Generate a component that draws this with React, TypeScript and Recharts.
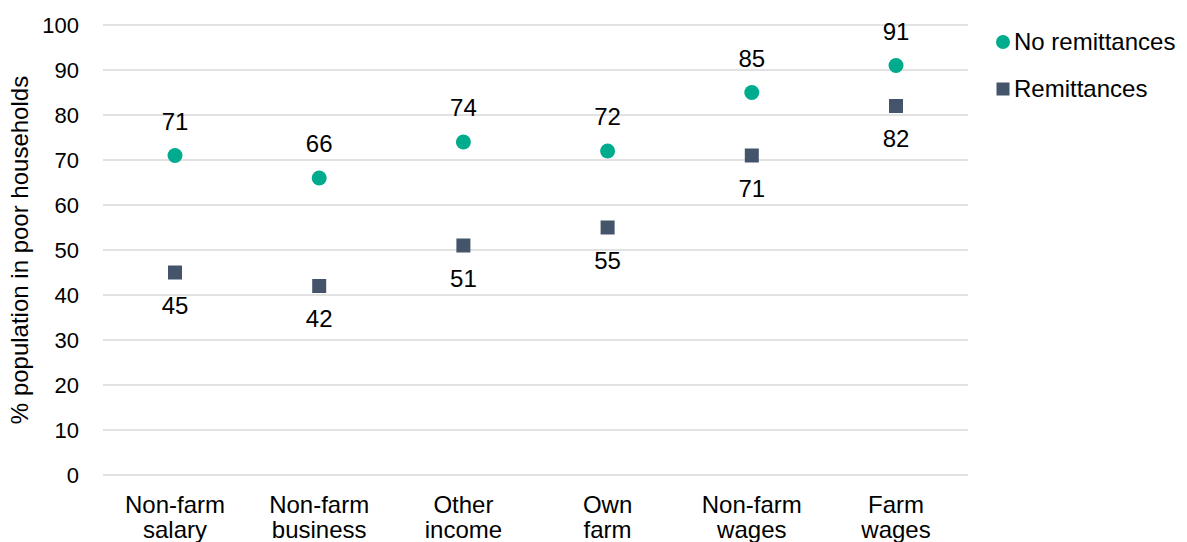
import { CartesianGrid, ComposedChart, LabelList, Line, XAxis, YAxis } from "recharts";

const CATEGORIES = [
  "Non-farm salary",
  "Non-farm business",
  "Other income",
  "Own farm",
  "Non-farm wages",
  "Farm wages",
];
const NO_REMITTANCES = [71, 66, 74, 72, 85, 91];
const REMITTANCES = [45, 42, 51, 55, 71, 82];
const Y_TICKS = [0, 10, 20, 30, 40, 50, 60, 70, 80, 90, 100];

const TEAL = "#00AB8E";
const SLATE = "#44546A";
const FONT = "'Liberation Sans', Arial, sans-serif";

const data = CATEGORIES.map((cat, i) => ({
  cat,
  noRem: NO_REMITTANCES[i],
  rem: REMITTANCES[i],
}));

function CircleDot(props: any) {
  const { cx, cy } = props;
  if (cx == null || cy == null) return null;
  return <circle cx={cx} cy={cy} r={7.5} fill={TEAL} />;
}

function SquareDot(props: any) {
  const { cx, cy } = props;
  if (cx == null || cy == null) return null;
  return <rect x={cx - 7} y={cy - 7} width={14} height={14} fill={SLATE} />;
}

function CategoryTick(props: any) {
  const { x, y, payload } = props;
  const words = String(payload.value).split(" ");
  return (
    <text x={x} y={y} textAnchor="middle" fill="#000" fontSize={24} fontFamily={FONT}>
      {words.map((w, i) => (
        <tspan key={i} x={x} dy={i === 0 ? 30 : 25}>
          {w}
        </tspan>
      ))}
    </text>
  );
}

// legend sits to the right of the plot, outside the chart's layout
function ChartLegend() {
  const row = {
    position: "absolute",
    left: 996,
    display: "flex",
    alignItems: "center",
    height: 24,
    fontFamily: FONT,
    fontSize: 24,
    color: "#000",
    whiteSpace: "nowrap",
  } as const;
  return (
    <>
      <div style={{ ...row, top: 30 }}>
        <svg width={14} height={14} style={{ marginRight: 4 }}>
          <circle cx={7} cy={7} r={7} fill={TEAL} />
        </svg>
        No remittances
      </div>
      <div style={{ ...row, top: 77 }}>
        <svg width={14} height={14} style={{ marginRight: 4 }}>
          <rect x={0.5} y={0.5} width={13} height={13} fill={SLATE} />
        </svg>
        Remittances
      </div>
    </>
  );
}

export default function App() {
  return (
    <div
      style={{
        position: "absolute",
        top: 0,
        left: 0,
        width: 1187,
        height: 542,
        background: "#fff",
      }}
    >
      <ComposedChart
        width={1187}
        height={542}
        data={data}
        margin={{ top: 25, right: 219, bottom: 37, left: 0 }}
        style={{ overflow: "visible" }}
      >
        <CartesianGrid vertical={false} stroke="#D9D9D9" strokeWidth={1.5} />
        <XAxis
          dataKey="cat"
          height={30}
          axisLine={false}
          tickLine={false}
          interval={0}
          padding={{ left: 72, right: 72 }}
          tick={<CategoryTick />}
        />
        <YAxis
          width={103}
          domain={[0, 100]}
          ticks={Y_TICKS}
          axisLine={false}
          tickLine={false}
          tick={{ fill: "#000", fontSize: 22, fontFamily: FONT }}
          tickMargin={18}
          label={{
            value: "% population in poor households",
            angle: -90,
            position: "insideLeft",
            dx: 14,
            style: { fill: "#000", fontSize: 24, fontFamily: FONT, textAnchor: "middle" },
          }}
        />
        <Line
          dataKey="noRem"
          stroke="none"
          dot={<CircleDot />}
          activeDot={false}
          isAnimationActive={false}
        >
          <LabelList
            dataKey="noRem"
            position="top"
            offset={26}
            fill="#000"
            fontSize={24}
            fontFamily={FONT}
          />
        </Line>
        <Line
          dataKey="rem"
          stroke="none"
          dot={<SquareDot />}
          activeDot={false}
          isAnimationActive={false}
        >
          <LabelList
            dataKey="rem"
            position="bottom"
            offset={24}
            fill="#000"
            fontSize={24}
            fontFamily={FONT}
          />
        </Line>
      </ComposedChart>
      <ChartLegend />
    </div>
  );
}
